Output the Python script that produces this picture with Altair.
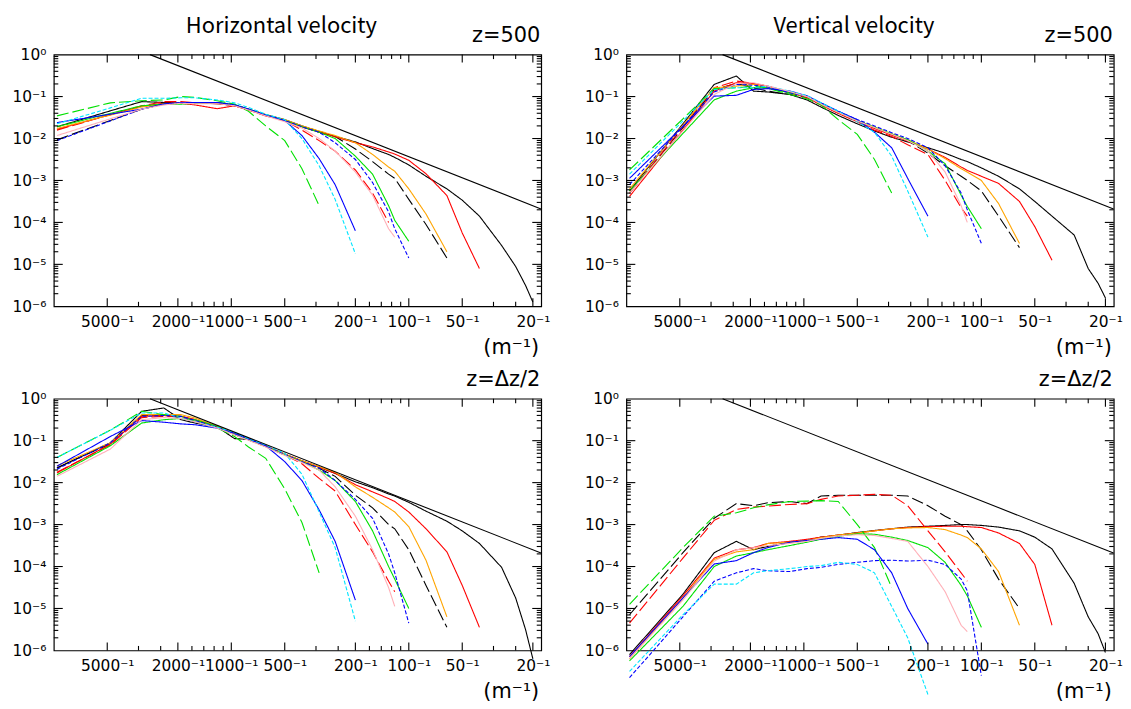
import altair as alt
import pandas as pd

# wavelengths (m) of the sampled wavenumbers, k = 1/lambda
LAM = [9600, 4800, 3200, 2400, 1920, 1600, 1200, 960, 800, 640, 500, 400, 320,
       260, 200, 160, 130, 120, 100, 80, 61, 50, 40, 30, 25, 22, 20]

SERIES = ['black', 'black_ld', 'red', 'red_ld', 'orange', 'green', 'green_ld',
          'blue', 'blue_sd', 'cyan_sd', 'pink']
COLORS = ['#000000', '#000000', '#ff0000', '#ff0000', '#ffa500', '#00e000', '#00e000',
          '#0000ff', '#0000ff', '#00e5ff', '#ffb0b8']
DASHES = [[1, 0], [12, 4], [1, 0], [12, 4], [1, 0], [1, 0], [12, 4],
          [1, 0], [4, 2], [4, 2], [1, 0]]

# log10 of spectral density, horizontal velocity, z=500
HOR_500 = {
    'black':    [-1.72, -1.34, -1.12, -1.14, -1.15, -1.15, -1.15, -1.2, -1.3, -1.43, -1.55, -1.7, -1.83, -1.95, -2.08, -2.24, -2.38, -2.45, -2.63, -2.9, -3.2, -3.47, -3.85, -4.55, -5.05, -5.5, -5.9],
    'black_ld': [-2.03, -1.57, -1.3, -1.18, -1.15, -1.15, -1.17, -1.22, -1.32, -1.45, -1.57, -1.72, -1.85, -1.95, -2.25, -2.55, -2.85, -2.95, -3.45, -4.05, -4.85],
    'red':      [-1.78, -1.43, -1.23, -1.16, -1.16, -1.2, -1.29, -1.22, -1.32, -1.45, -1.57, -1.72, -1.85, -1.96, -2.1, -2.2, -2.32, -2.37, -2.52, -2.84, -3.36, -4.25, -5.1],
    'red_ld':   [-1.8, -1.43, -1.22, -1.12, -1.12, -1.15, -1.17, -1.22, -1.32, -1.46, -1.57, -1.8, -2.05, -2.3, -2.75, -3.3, -4.0],
    'orange':   [-1.76, -1.44, -1.25, -1.18, -1.14, -1.15, -1.15, -1.2, -1.3, -1.43, -1.55, -1.7, -1.82, -1.93, -2.1, -2.38, -2.68, -2.78, -3.2, -3.8, -4.7],
    'green':    [-1.72, -1.40, -1.22, -1.18, -1.18, -1.16, -1.14, -1.2, -1.3, -1.44, -1.57, -1.72, -1.85, -2.0, -2.42, -2.85, -3.6, -3.95, -4.45],
    'green_ld': [-1.46, -1.15, -1.1, -1.08, -1.0, -1.02, -1.1, -1.18, -1.35, -1.7, -2.05, -2.72, -3.6],
    'blue':     [-1.62, -1.42, -1.3, -1.18, -1.14, -1.14, -1.14, -1.2, -1.3, -1.44, -1.57, -1.93, -2.48, -3.1, -4.2],
    'blue_sd':  [-2.05, -1.58, -1.3, -1.18, -1.15, -1.14, -1.15, -1.2, -1.3, -1.44, -1.57, -1.72, -1.85, -2.1, -2.5, -3.05, -3.75, -4.15, -4.85],
    'cyan_sd':  [-1.65, -1.27, -1.04, -1.04, -1.03, -1.03, -1.08, -1.15, -1.26, -1.42, -1.55, -2.0, -2.65, -3.45, -4.75],
    'pink':     [-1.93, -1.53, -1.3, -1.2, -1.16, -1.17, -1.17, -1.22, -1.32, -1.46, -1.6, -1.75, -2.0, -2.3, -2.8, -3.35, -4.15, -4.35],
}

# vertical velocity, z=500
VER_500 = {
    'black':    [-3.25, -1.65, -0.71, -0.51, -0.87, -0.89, -0.95, -1.08, -1.25, -1.45, -1.65, -1.82, -1.97, -2.08, -2.22, -2.35, -2.5, -2.55, -2.7, -2.9, -3.2, -3.5, -3.85, -4.3, -5.1, -5.45, -5.8],
    'black_ld': [-3.3, -1.74, -0.83, -0.69, -0.79, -0.87, -0.95, -1.02, -1.18, -1.38, -1.58, -1.74, -1.9, -2.05, -2.35, -2.65, -2.9, -3.0, -3.25, -3.85, -4.6],
    'red':      [-3.38, -1.8, -0.87, -0.67, -0.69, -0.75, -0.91, -1.02, -1.2, -1.4, -1.6, -1.76, -1.92, -2.06, -2.25, -2.45, -2.68, -2.76, -2.9, -3.07, -3.5, -4.1, -4.9],
    'red_ld':   [-3.3, -1.72, -0.79, -0.63, -0.69, -0.75, -0.91, -1.02, -1.2, -1.4, -1.6, -1.8, -1.95, -2.15, -2.38, -3.0, -3.65, -3.85],
    'orange':   [-3.2, -1.68, -0.79, -0.75, -0.71, -0.79, -0.91, -1.0, -1.17, -1.37, -1.57, -1.73, -1.89, -2.03, -2.25, -2.48, -2.72, -2.8, -3.0, -3.55, -4.5],
    'green':    [-3.25, -1.88, -1.08, -0.87, -0.79, -0.8, -0.91, -1.0, -1.17, -1.37, -1.57, -1.73, -1.89, -2.03, -2.3, -2.6, -3.35, -3.62, -4.15],
    'green_ld': [-2.75, -1.53, -0.81, -0.79, -0.75, -0.8, -0.95, -1.05, -1.2, -1.55, -1.9, -2.5, -3.3],
    'blue':     [-2.95, -1.71, -0.99, -0.97, -0.83, -0.81, -0.87, -0.98, -1.15, -1.35, -1.55, -1.85, -2.22, -2.95, -3.85],
    'blue_sd':  [-3.1, -1.71, -0.89, -0.71, -0.73, -0.77, -0.91, -1.0, -1.16, -1.35, -1.55, -1.7, -1.86, -2.0, -2.22, -2.65, -3.3, -3.7, -4.5],
    'cyan_sd':  [-2.85, -1.58, -0.83, -0.79, -0.79, -0.75, -0.87, -0.98, -1.15, -1.35, -1.6, -1.85, -2.42, -3.25, -4.35],
    'pink':     [-3.3, -1.82, -0.95, -0.69, -0.67, -0.75, -0.88, -1.0, -1.18, -1.38, -1.58, -1.74, -1.9, -2.05, -2.3, -2.8, -3.6, -4.0],
}

# horizontal velocity, z=dz/2
HOR_LOW = {
    'black':    [-1.65, -1.05, -0.30, -0.22, -0.5, -0.58, -0.67, -0.95, -0.97, -1.12, -1.32, -1.48, -1.63, -1.78, -1.98, -2.12, -2.27, -2.32, -2.47, -2.68, -2.92, -3.15, -3.45, -4.02, -4.75, -5.5, -6.2],
    'black_ld': [-1.65, -1.07, -0.40, -0.4, -0.45, -0.55, -0.67, -0.85, -0.98, -1.14, -1.34, -1.5, -1.66, -1.85, -2.3, -2.6, -3.0, -3.1, -3.6, -4.45, -5.45],
    'red':      [-1.77, -1.08, -0.42, -0.4, -0.42, -0.5, -0.65, -0.84, -0.97, -1.13, -1.32, -1.48, -1.63, -1.78, -2.05, -2.22, -2.38, -2.45, -2.7, -3.1, -3.65, -4.45, -5.45],
    'red_ld':   [-1.75, -1.1, -0.45, -0.42, -0.42, -0.5, -0.68, -0.85, -0.98, -1.14, -1.34, -1.55, -1.9, -2.2, -3.0, -3.65, -4.35, -4.6],
    'orange':   [-1.6, -1.05, -0.38, -0.38, -0.38, -0.46, -0.66, -0.84, -0.97, -1.13, -1.32, -1.48, -1.62, -1.75, -2.1, -2.35, -2.6, -2.7, -3.05, -3.85, -5.2],
    'green':    [-1.81, -1.12, -0.58, -0.5, -0.47, -0.5, -0.66, -0.85, -0.98, -1.14, -1.34, -1.5, -1.7, -1.95, -2.45, -3.15, -4.0, -4.3, -5.0],
    'green_ld': [-1.40, -0.75, -0.30, -0.38, -0.42, -0.54, -0.70, -0.9, -1.15, -1.42, -2.15, -2.95, -4.15],
    'blue':     [-1.61, -0.9, -0.52, -0.56, -0.6, -0.62, -0.7, -0.82, -0.95, -1.12, -1.5, -1.95, -2.65, -3.4, -4.8],
    'blue_sd':  [-1.68, -1.05, -0.42, -0.4, -0.42, -0.52, -0.68, -0.84, -0.97, -1.13, -1.33, -1.5, -1.65, -1.95, -2.4, -2.85, -3.7, -4.15, -5.35],
    'cyan_sd':  [-1.40, -0.75, -0.34, -0.34, -0.46, -0.55, -0.68, -0.8, -0.95, -1.1, -1.3, -1.8, -2.7, -3.55, -5.3],
    'pink':     [-1.85, -1.2, -0.5, -0.45, -0.47, -0.55, -0.7, -0.86, -0.99, -1.15, -1.35, -1.52, -1.7, -2.1, -2.8, -3.6, -4.5, -4.95],
}

# vertical velocity, z=dz/2
VER_LOW = {
    'black':    [-6.1, -4.66, -3.67, -3.4, -3.6, -3.52, -3.42, -3.38, -3.3, -3.25, -3.19, -3.14, -3.1, -3.06, -3.04, -3.02, -3.0, -3.0, -3.02, -3.06, -3.15, -3.3, -3.58, -4.4, -5.2, -5.6, -6.05],
    'black_ld': [-5.15, -3.67, -2.85, -2.5, -2.55, -2.48, -2.45, -2.5, -2.32, -2.3, -2.3, -2.3, -2.3, -2.32, -2.55, -2.8, -3.0, -3.15, -3.6, -4.3, -5.0],
    'red':      [-6.15, -4.7, -3.8, -3.6, -3.55, -3.45, -3.4, -3.35, -3.3, -3.25, -3.2, -3.15, -3.1, -3.07, -3.05, -3.04, -3.04, -3.05, -3.07, -3.2, -3.45, -3.95, -5.4],
    'red_ld':   [-5.35, -3.8, -2.9, -2.64, -2.58, -2.56, -2.52, -2.5, -2.4, -2.32, -2.3, -2.28, -2.3, -2.55, -3.15, -3.65, -4.15, -4.35],
    'orange':   [-6.2, -4.75, -3.83, -3.65, -3.6, -3.45, -3.42, -3.38, -3.31, -3.25, -3.2, -3.15, -3.1, -3.08, -3.07, -3.12, -3.25, -3.31, -3.58, -4.12, -5.4],
    'green':    [-6.25, -4.95, -4.0, -3.75, -3.67, -3.6, -3.5, -3.42, -3.35, -3.28, -3.22, -3.23, -3.3, -3.38, -3.55, -3.9, -4.45, -4.7, -5.45],
    'green_ld': [-4.9, -3.55, -2.8, -2.72, -2.6, -2.53, -2.45, -2.44, -2.43, -2.45, -3.0, -3.55, -4.5],
    'blue':     [-6.15, -4.75, -3.94, -3.86, -3.67, -3.55, -3.42, -3.38, -3.35, -3.31, -3.35, -3.6, -4.15, -5.0, -5.85],
    'blue_sd':  [-6.65, -5.2, -4.35, -4.15, -4.05, -4.1, -4.12, -4.05, -4.02, -3.95, -3.9, -3.86, -3.85, -3.87, -3.85, -3.95, -4.3, -4.58, -6.6],
    'cyan_sd':  [-6.5, -5.15, -4.42, -4.42, -4.15, -4.1, -4.05, -4.0, -3.98, -3.9, -3.95, -4.15, -4.95, -5.7, -7.05],
    'pink':     [-6.2, -4.8, -3.87, -3.6, -3.55, -3.5, -3.45, -3.4, -3.33, -3.27, -3.24, -3.26, -3.33, -3.4, -4.0, -4.6, -5.4, -5.55],
}

# -5/3 reference line end points (wavelength, value)
REF_LAM = [2870, 18]
REF_E = [1.0, 2.1e-4]

# axis tick positions (wavenumber, m^-1) and decades
X_MAJOR = [2e-4, 5e-4, 1e-3, 2e-3, 5e-3, 1e-2, 2e-2, 5e-2]
X_MINOR = [3e-4, 4e-4, 6e-4, 7e-4, 8e-4, 9e-4, 3e-3, 4e-3, 6e-3, 7e-3, 8e-3, 9e-3, 3e-2, 4e-2]
Y_LABELS = [1e-6, 1e-5, 1e-4, 1e-3, 1e-2, 1e-1, 1.0]
Y_MAJOR = [1e-5, 1e-4, 1e-3, 1e-2, 1e-1]
Y_MINOR = [m * 10.0 ** e for e in range(-6, 0) for m in range(2, 10)]

W = 490.5
H = 253.3
K_MIN = 1e-4
K_MAX = 1 / 17.95

SUP = {'0': '⁰', '1': '¹', '2': '²', '3': '³', '4': '⁴', '5': '⁵', '6': '⁶'}
cond = "round(log(datum.value)/LN10)"
parts = []
for e in range(0, -7, -1):
    lbl = SUP['0'] if e == 0 else '⁻' + SUP[str(-e)]
    parts.append(f"{cond} == {e} ? '{lbl}' : ")
Y_EXPR = "'10' + (" + "".join(parts) + "'')"
X_EXPR = "round(1/datum.value) + '⁻¹'"

XS = alt.Scale(type='log', domain=[K_MIN, K_MAX], nice=False)
YS = alt.Scale(type='log', domain=[1e-6, 1.0], nice=False)
AX_X = alt.Axis(values=X_MAJOR, labelExpr=X_EXPR, labelPadding=8, orient='bottom')
AX_Y = alt.Axis(values=Y_LABELS, labelExpr=Y_EXPR, labelPadding=8, orient='left')


def rules_x(vals, length, top):
    d = pd.DataFrame({'k': vals})
    y0 = 0 if top else H
    y1 = length if top else H - length
    return alt.Chart(d).mark_rule(color='black', strokeWidth=1.1).encode(
        x=alt.X('k:Q', scale=XS, axis=AX_X),
        y=alt.value(y0), y2=alt.value(y1))


def rules_y(vals, length, right):
    d = pd.DataFrame({'v': vals})
    x0 = W if right else 0
    x1 = W - length if right else length
    return alt.Chart(d).mark_rule(color='black', strokeWidth=1.1).encode(
        y=alt.Y('v:Q', scale=YS, axis=AX_Y),
        x=alt.value(x0), x2=alt.value(x1))


def text(t, x, y, size, align, font):
    return alt.Chart(pd.DataFrame({'t': [t]})).mark_text(
        fontSize=size, font=font, align=align, baseline='middle', color='black'
    ).encode(x=alt.value(x), y=alt.value(y), text='t:N')


def panel(vals, title, zlabel, anchor=False):
    rows = []
    for s in SERIES:
        for i, e in enumerate(vals[s]):
            rows.append({'series': s, 'k': 1.0 / LAM[i], 'E': 10.0 ** e})
    df = pd.DataFrame(rows)
    lines = alt.Chart(df).mark_line(strokeWidth=1.1).encode(
        x=alt.X('k:Q', scale=XS, axis=AX_X),
        y=alt.Y('E:Q', scale=YS, axis=AX_Y),
        color=alt.Color('series:N', scale=alt.Scale(domain=SERIES, range=COLORS), legend=None),
        strokeDash=alt.StrokeDash('series:N', scale=alt.Scale(domain=SERIES, range=DASHES), legend=None),
        detail='series:N',
    )
    ref = alt.Chart(pd.DataFrame({'k': [1.0 / l for l in REF_LAM], 'E': REF_E})).mark_line(
        color='black', strokeWidth=1.1).encode(
        x=alt.X('k:Q', scale=XS, axis=AX_X), y=alt.Y('E:Q', scale=YS, axis=AX_Y))
    layers = [
        lines, ref,
        rules_x(X_MAJOR, 8, False), rules_x(X_MINOR, 4.5, False),
        rules_x(X_MAJOR, 8, True), rules_x(X_MINOR, 4.5, True),
        rules_y(Y_MAJOR, 9, False), rules_y(Y_MINOR, 4.5, False),
        rules_y(Y_MAJOR, 9, True), rules_y(Y_MINOR, 4.5, True),
        text('(m⁻¹)', W - 2, H + 42, 21, 'right', 'DejaVu Sans'),
        text(zlabel, W - 1, -19, 21, 'right', 'DejaVu Sans'),
    ]
    if title:
        layers.append(text(title, 229, -28.5, 22, 'center', 'Noto Sans CJK JP'))
    if anchor:
        layers.append(alt.Chart(pd.DataFrame({'a': [0]})).mark_rule(strokeOpacity=0).encode(
            x=alt.value(-55), x2=alt.value(-54), y=alt.value(-55), y2=alt.value(-54)))
    return alt.layer(*layers).properties(width=W, height=H)


tl = panel(HOR_500, 'Horizontal velocity', 'z=500', anchor=True)
tr = panel(VER_500, 'Vertical velocity', 'z=500')
bl = panel(HOR_LOW, None, 'z=Δz/2')
br = panel(VER_LOW, None, 'z=Δz/2')

chart = alt.concat(tl, tr, bl, br, columns=2,
                   spacing={'row': 92.3, 'column': 85.2}, bounds='flush').properties(
    padding={'left': -9.9, 'top': -11.3, 'right': 0, 'bottom': 0},
    autosize=alt.AutoSizeParams(type='pad'),
).configure_view(stroke='black', strokeWidth=1.2).configure_axis(
    labelFont='DejaVu Sans', labelFontSize=15.5, labelColor='black', ticks=False,
    domain=False, grid=False, labelOverlap=False, labelFlush=False, labelBound=False,
    title=None,
)

chart.save('out.html', embed_options={'renderer': 'svg', 'actions': False})
